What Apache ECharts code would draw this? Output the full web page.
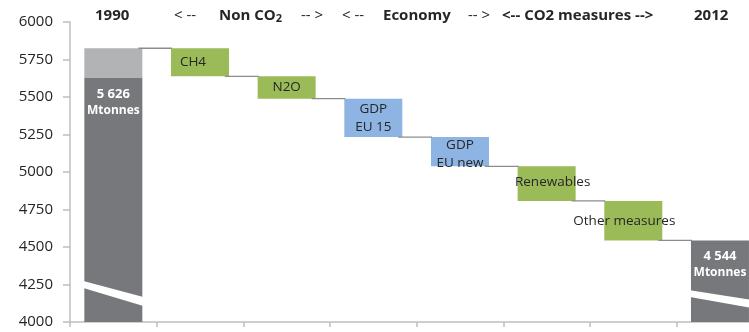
<!DOCTYPE html>
<html>
<head>
<meta charset="utf-8">
<script src="https://cdn.jsdelivr.net/npm/echarts@6.0.0/dist/echarts.min.js"></script>
<style>
  html, body { margin: 0; padding: 0; background: #ffffff; }
  #chart { width: 749px; height: 332px; }
</style>
</head>
<body>
<div id="chart"></div>
<script>
// EU greenhouse-gas emissions 1990 -> 2012, decomposed step by step (Mtonnes)
const categories = ['1990', 'CH4', 'N2O', 'GDP\nEU 15', 'GDP\nEU new', 'Renewables', 'Other measures', '2012'];
const total1990 = 5825;          // all greenhouse gases, 1990
const co2Start = 5626;           // CO2 part of 1990
const co2End = 4544;             // 2012 total
const reductions = [187, 149, 256, 195, 231, 263];   // CH4 .. Other measures
const reductionGroup = ['measure', 'measure', 'economy', 'economy', 'measure', 'measure'];
const yMin = 4000, yMax = 6000, yStep = 250;
// axis-break stripes across the two end bars: [category, top-left, top-right, bottom-left, bottom-right]
const breakStripes = [
  [0, 4273, 4167, 4227, 4107],
  [7, 4211, 4149, 4167, 4096]
];
const headers = [
  { text: '1990', x: 95, bold: true },
  { text: '< --', x: 174 },
  { text: '{b|Non CO}{s|2}', x: 219, rich: true },
  { text: '-- >', x: 301 },
  { text: '< --', x: 342 },
  { text: 'Economy', x: 383, bold: true },
  { text: '-- >', x: 468 },
  { text: '<-- CO2 measures -->', x: 502, bold: true },
  { text: '2012', x: 694, bold: true }
];

const FONT = '"Open Sans", "Noto Sans", sans-serif';
const DARK = '#77787b', LIGHT = '#b2b3b5', GREEN = '#9bbb59', BLUE = '#8db4e2';
const BAR_W = 58;

// running level after each category
const levels = [total1990];
reductions.forEach(r => levels.push(levels[levels.length - 1] - r));

const n = categories.length;
const baseData = categories.map((c, i) => (i >= 1 && i <= reductions.length) ? levels[i] : '-');
const darkData = categories.map((c, i) => i === 0 ? co2Start : (i === n - 1 ? co2End : '-'));
const lightData = categories.map((c, i) => i === 0 ? total1990 - co2Start : '-');

const labelOffsets = { 1: [-7, 0], 4: [0, 2], 5: [6, -1], 6: [-9, 0] };
function stepData(group) {
  return categories.map((c, i) => {
    const k = i - 1;
    if (k < 0 || k >= reductions.length || reductionGroup[k] !== group) return '-';
    return { value: reductions[k], label: { offset: labelOffsets[i] || [0, 0] } };
  });
}

function spaced(v) {
  return String(v).replace(/\B(?=(\d{3})+(?!\d))/g, ' ');
}

const stepLabel = {
  show: true,
  position: 'inside',
  color: '#262626',
  fontFamily: FONT,
  fontSize: 13.5,
  lineHeight: 18,
  formatter: p => categories[p.dataIndex]
};

const connectorData = levels.map((v, i) => [i, v]);

const chart = echarts.init(document.getElementById('chart'), null, { renderer: 'canvas' });
chart.setOption({
  animation: false,
  backgroundColor: '#ffffff',
  grid: { left: 70, right: -14.3, top: 22, bottom: 10, containLabel: false, outerBoundsMode: 'none' },
  xAxis: {
    type: 'category',
    data: categories,
    axisLine: { lineStyle: { color: '#bfbfbf', width: 1.5 } },
    axisTick: { show: true, interval: 0, length: 5, lineStyle: { color: '#bfbfbf', width: 1.5 } },
    axisLabel: { show: false },
    splitLine: { show: false }
  },
  yAxis: {
    type: 'value',
    min: yMin,
    max: yMax,
    interval: yStep,
    axisLine: { show: true, lineStyle: { color: '#bfbfbf', width: 1.5 } },
    axisTick: { show: true, length: 7, lineStyle: { color: '#bfbfbf', width: 1.5 } },
    axisLabel: { color: '#262626', fontFamily: FONT, fontSize: 15, margin: 17, formatter: v => String(v) },
    splitLine: { show: false }
  },
  graphic: headers.map(h => ({
    type: 'text',
    x: h.x,
    y: 16,
    silent: true,
    style: h.rich ? {
      text: h.text,
      verticalAlign: 'middle',
      rich: {
        b: { fontFamily: FONT, fontSize: 15, fontWeight: 'bold', fill: '#262626' },
        s: { fontFamily: FONT, fontSize: 11, fontWeight: 'bold', fill: '#262626', padding: [5, 0, 0, 0] }
      }
    } : {
      text: h.text,
      verticalAlign: 'middle',
      fontFamily: FONT,
      fontSize: 15,
      fontWeight: h.bold ? 'bold' : 'normal',
      fill: '#262626'
    }
  })),
  series: [
    {
      name: 'base', type: 'bar', stack: 'w', barWidth: BAR_W, silent: true,
      itemStyle: { color: 'transparent' }, data: baseData
    },
    {
      name: 'CO2', type: 'bar', stack: 'w', barWidth: BAR_W,
      itemStyle: { color: DARK }, data: darkData,
      label: {
        show: true, position: 'insideTop', distance: 8,
        formatter: p => '{v|' + spaced(p.value) + '}\n{u|Mtonnes}',
        rich: {
          v: { color: '#ffffff', fontFamily: FONT, fontSize: 13, fontWeight: 'bold', lineHeight: 16 },
          u: { color: '#ffffff', fontFamily: FONT, fontSize: 12, fontWeight: 'bold', lineHeight: 16 }
        }
      }
    },
    {
      name: 'non-CO2', type: 'bar', stack: 'w', barWidth: BAR_W,
      itemStyle: { color: LIGHT }, data: lightData
    },
    {
      name: 'measures', type: 'bar', stack: 'w', barWidth: BAR_W,
      itemStyle: { color: GREEN }, data: stepData('measure'), label: stepLabel
    },
    {
      name: 'economy', type: 'bar', stack: 'w', barWidth: BAR_W,
      itemStyle: { color: BLUE }, data: stepData('economy'), label: stepLabel
    },
    {
      name: 'connectors', type: 'custom', silent: true, z: 3,
      data: connectorData,
      encode: { x: 0, y: 1 },
      renderItem: (params, api) => {
        const i = api.value(0), v = api.value(1);
        const a = api.coord([i, v]);
        const b = api.coord([i + 1, v]);
        return {
          type: 'line',
          shape: { x1: a[0] + BAR_W / 2 - 4, y1: a[1], x2: b[0] - BAR_W / 2 + 1, y2: b[1] },
          style: { stroke: '#8c8c8c', lineWidth: 1.3 }
        };
      }
    },
    {
      name: 'breaks', type: 'custom', silent: true, z: 4,
      data: breakStripes,
      encode: { x: 0, y: 1 },
      renderItem: (params, api) => {
        const c = api.value(0);
        const tl = api.coord([c, api.value(1)]);
        const tr = api.coord([c, api.value(2)]);
        const bl = api.coord([c, api.value(3)]);
        const br = api.coord([c, api.value(4)]);
        const l = tl[0] - BAR_W / 2 - 1, r = tl[0] + BAR_W / 2 + 1;
        return {
          type: 'polygon',
          shape: { points: [[l, tl[1]], [r, tr[1]], [r, br[1]], [l, bl[1]]] },
          style: { fill: '#ffffff' }
        };
      }
    }
  ]
});
</script>
</body>
</html>
